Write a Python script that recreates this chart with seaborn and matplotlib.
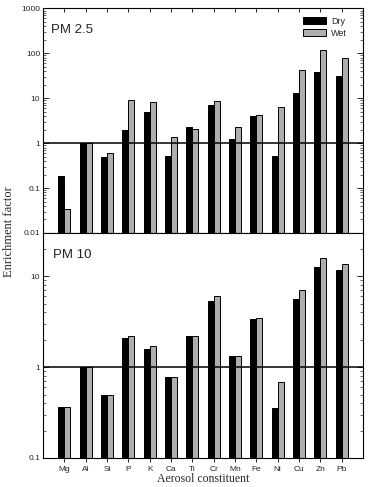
import numpy as np
import pandas as pd
import matplotlib
matplotlib.use("Agg")
import matplotlib.pyplot as plt
import seaborn as sns
from matplotlib.ticker import LogLocator, FixedLocator, FixedFormatter, NullFormatter

elements = ["Mg", "Al", "Si", "P", "K", "Ca", "Ti", "Cr", "Mn", "Fe", "Ni", "Cu", "Zn", "Pb"]
pm25_dry = [0.19, 1.0, 0.50, 2.0, 4.9, 0.53, 2.25, 7.0, 1.27, 4.0, 0.53, 13.3, 38.0, 32.0]
pm25_wet = [0.034, 1.0, 0.59, 9.1, 8.3, 1.4, 2.1, 8.6, 2.25, 4.3, 6.3, 43.0, 120.0, 79.0]
pm10_dry = [0.365, 1.0, 0.495, 2.1, 1.57, 0.78, 2.23, 5.3, 1.33, 3.38, 0.353, 5.57, 12.7, 11.7]
pm10_wet = [0.36, 1.0, 0.495, 2.23, 1.73, 0.78, 2.23, 6.07, 1.33, 3.44, 0.695, 7.13, 16.1, 13.8]
seasons = ["Dry", "Wet"]
panel_labels = ["PM 2.5", "PM 10"]
top_ticks = [0.01, 0.1, 1, 10, 100, 1000]
top_ticklabels = ["0.01", "0.1", "1", "10", "100", "1000"]
bot_ticks = [0.1, 1, 10]
bot_ticklabels = ["0.1", "1", "10"]


def long_df(dry, wet):
    return pd.DataFrame({
        "element": elements * 2,
        "season": ["Dry"] * len(elements) + ["Wet"] * len(elements),
        "value": list(dry) + list(wet),
    })


sns.set_theme(style="white")
plt.rcParams["font.family"] = ["Liberation Sans", "DejaVu Sans"]

fig = plt.figure(figsize=(3.68, 4.87), dpi=100)
left, width = 43 / 368, (363 - 43) / 368
ax1 = fig.add_axes([left, 1 - 233 / 487, width, (233 - 8.5) / 487])
ax2 = fig.add_axes([left, 1 - 458 / 487, width, (458 - 233) / 487])

palette = {"Dry": "#000000", "Wet": "#aeaeae"}

for ax, dry, wet, ylim, ticks, labels in [
    (ax1, pm25_dry, pm25_wet, (0.01, 1000), top_ticks, top_ticklabels),
    (ax2, pm10_dry, pm10_wet, (0.1, 30), bot_ticks, bot_ticklabels),
]:
    ax.set_yscale("log")
    sns.barplot(data=long_df(dry, wet), x="element", y="value", hue="season",
                hue_order=seasons, palette=palette, edgecolor="black",
                linewidth=0.7, width=0.55, ax=ax, legend=(ax is ax1),
                saturation=1)
    ax.set_ylim(*ylim)
    ax.set_xlim(-1, 14)
    ax.axhline(1, color="black", lw=1.1, zorder=5)
    ax.yaxis.set_major_locator(FixedLocator(ticks))
    ax.yaxis.set_major_formatter(FixedFormatter(labels))
    ax.yaxis.set_minor_locator(LogLocator(base=10, subs=np.arange(2, 10)))
    ax.yaxis.set_minor_formatter(NullFormatter())
    ax.tick_params(axis="y", which="major", direction="in", length=4, width=0.7,
                   left=True, right=True, labelsize=6, pad=2)
    ax.tick_params(axis="y", which="minor", direction="in", length=2, width=0.5,
                   left=True, right=True)
    ax.tick_params(axis="x", which="major", direction="out", length=3, width=0.7,
                   bottom=True, top=True, labelsize=6, pad=3)
    for s in ax.spines.values():
        s.set_color("black")
        s.set_linewidth(0.8)
    ax.set_xlabel("")
    ax.set_ylabel("")

ax1.text(0.024, 0.93, panel_labels[0], transform=ax1.transAxes, fontsize=9.5,
         ha="left", va="top")
ax2.text(0.03, 0.93, panel_labels[1], transform=ax2.transAxes, fontsize=9.5,
         ha="left", va="top")

ax1.tick_params(axis="x", labelbottom=False, top=True, direction="in")
ax2.tick_params(axis="x", top=False)

leg = ax1.legend(loc="upper right", frameon=False, fontsize=6.5,
                 handlelength=2.5, handleheight=0.8, borderaxespad=0.5,
                 bbox_to_anchor=(0.975, 1.0),
                 labelspacing=0.35, handletextpad=0.6)

fig.text(0.024, 1 - 232 / 487, "Enrichment factor", rotation=90, ha="center",
         va="center", fontsize=9, family=["Liberation Serif", "DejaVu Serif"])
fig.text((43 + 363) / 2 / 368, 1 - 479 / 487, "Aerosol constituent", ha="center",
         va="center", fontsize=8.5, family=["Liberation Serif", "DejaVu Serif"])

fig.savefig("out.png", dpi=100)
